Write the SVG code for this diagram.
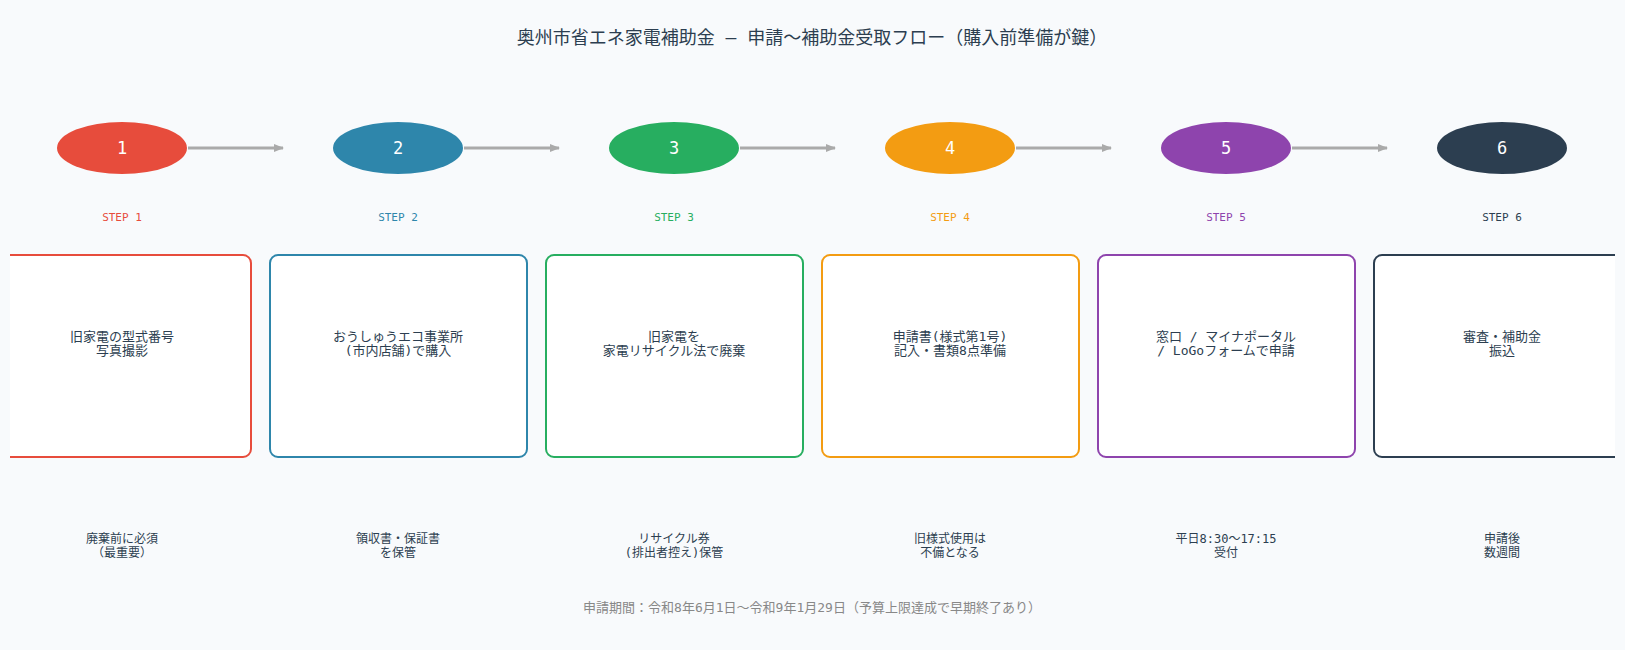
<svg xmlns="http://www.w3.org/2000/svg" width="1625" height="650" viewBox="0 0 1625 650">
<defs>
<marker id="ah" markerWidth="10" markerHeight="8" refX="9" refY="4" orient="auto" markerUnits="userSpaceOnUse"><path d="M0,0 L10,4 L0,8 z" fill="#aaaaaa"/></marker>
<clipPath id="cl"><rect x="10" y="0" width="1605" height="650"/></clipPath>
</defs>
<style>
text{font-family:"DejaVu Sans Mono","Noto Sans CJK JP",monospace;text-anchor:middle}
.t{font-size:18px;fill:#2c3e50}
.n{font-size:17px;fill:#ffffff}
.s{font-size:11px}
.b{font-size:13px;fill:#2c3e50}
.o{font-size:12px;fill:#2c3e50}
.f{font-size:13px;fill:#888888}
.box{fill:#ffffff;stroke-width:2}
.c{stroke:#aaaaaa;stroke-width:3;fill:none;marker-end:url(#ah)}
</style>
<rect width="1625" height="650" fill="#f8fafc"/>
<text class="t" x="812" y="44">奥州市省エネ家電補助金 — 申請〜補助金受取フロー（購入前準備が鍵）</text>
<g id="connectors">
<line class="c" x1="188" y1="148" x2="283" y2="148"/>
<line class="c" x1="464" y1="148" x2="559" y2="148"/>
<line class="c" x1="740" y1="148" x2="835" y2="148"/>
<line class="c" x1="1016" y1="148" x2="1111" y2="148"/>
<line class="c" x1="1292" y1="148" x2="1387" y2="148"/>
</g>
<g clip-path="url(#cl)">
<g id="step1">
<ellipse cx="122" cy="148" rx="65" ry="26" fill="#e74c3c"/><text class="n" x="122" y="154">1</text>
<text class="s" x="122" y="221" fill="#e74c3c">STEP 1</text>
<rect class="box" x="-6" y="255" width="257" height="202" rx="8" stroke="#e74c3c"/>
<text class="b" x="122" y="341">旧家電の型式番号</text><text class="b" x="122" y="355">写真撮影</text>
<text class="o" x="122" y="543">廃棄前に必須</text><text class="o" x="122" y="557">（最重要）</text>
</g>
<g id="step2">
<ellipse cx="398" cy="148" rx="65" ry="26" fill="#2e86ab"/><text class="n" x="398" y="154">2</text>
<text class="s" x="398" y="221" fill="#2e86ab">STEP 2</text>
<rect class="box" x="270" y="255" width="257" height="202" rx="8" stroke="#2e86ab"/>
<text class="b" x="398" y="341">おうしゅうエコ事業所</text><text class="b" x="398" y="355">(市内店舗)で購入</text>
<text class="o" x="398" y="543">領収書・保証書</text><text class="o" x="398" y="557">を保管</text>
</g>
<g id="step3">
<ellipse cx="674" cy="148" rx="65" ry="26" fill="#27ae60"/><text class="n" x="674" y="154">3</text>
<text class="s" x="674" y="221" fill="#27ae60">STEP 3</text>
<rect class="box" x="546" y="255" width="257" height="202" rx="8" stroke="#27ae60"/>
<text class="b" x="674" y="341">旧家電を</text><text class="b" x="674" y="355">家電リサイクル法で廃棄</text>
<text class="o" x="674" y="543">リサイクル券</text><text class="o" x="674" y="557">(排出者控え)保管</text>
</g>
<g id="step4">
<ellipse cx="950" cy="148" rx="65" ry="26" fill="#f39c12"/><text class="n" x="950" y="154">4</text>
<text class="s" x="950" y="221" fill="#f39c12">STEP 4</text>
<rect class="box" x="822" y="255" width="257" height="202" rx="8" stroke="#f39c12"/>
<text class="b" x="950" y="341">申請書(様式第1号)</text><text class="b" x="950" y="355">記入・書類8点準備</text>
<text class="o" x="950" y="543">旧様式使用は</text><text class="o" x="950" y="557">不備となる</text>
</g>
<g id="step5">
<ellipse cx="1226" cy="148" rx="65" ry="26" fill="#8e44ad"/><text class="n" x="1226" y="154">5</text>
<text class="s" x="1226" y="221" fill="#8e44ad">STEP 5</text>
<rect class="box" x="1098" y="255" width="257" height="202" rx="8" stroke="#8e44ad"/>
<text class="b" x="1226" y="341">窓口 / マイナポータル</text><text class="b" x="1226" y="355">/ LoGoフォームで申請</text>
<text class="o" x="1226" y="543">平日8:30〜17:15</text><text class="o" x="1226" y="557">受付</text>
</g>
<g id="step6">
<ellipse cx="1502" cy="148" rx="65" ry="26" fill="#2c3e50"/><text class="n" x="1502" y="154">6</text>
<text class="s" x="1502" y="221" fill="#2c3e50">STEP 6</text>
<rect class="box" x="1374" y="255" width="257" height="202" rx="8" stroke="#2c3e50"/>
<text class="b" x="1502" y="341">審査・補助金</text><text class="b" x="1502" y="355">振込</text>
<text class="o" x="1502" y="543">申請後</text><text class="o" x="1502" y="557">数週間</text>
</g>
</g>
<text class="f" x="812" y="612">申請期間：令和8年6月1日〜令和9年1月29日（予算上限達成で早期終了あり）</text>
</svg>
